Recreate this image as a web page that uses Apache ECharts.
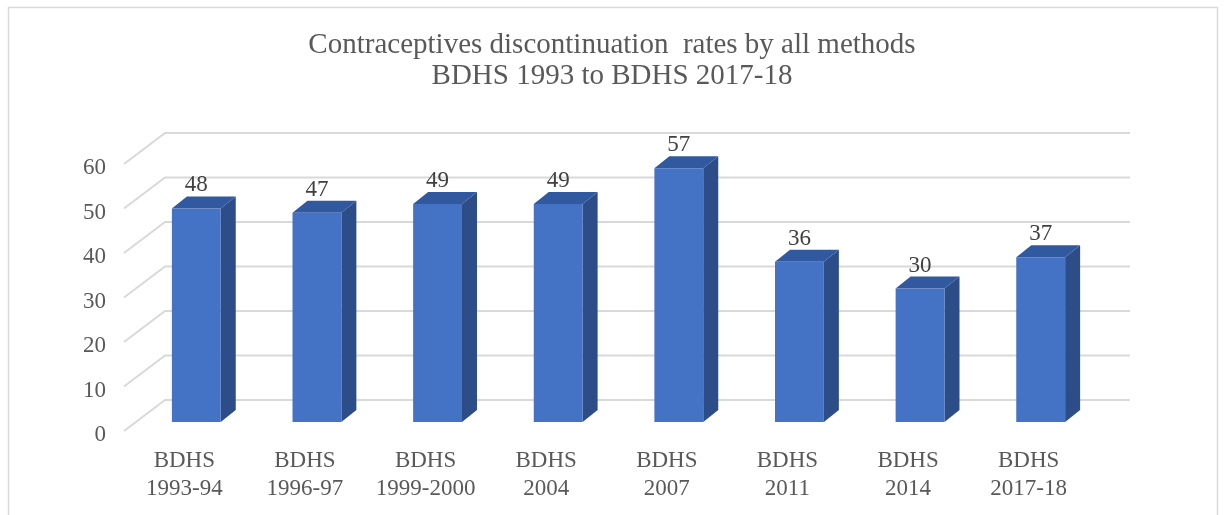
<!DOCTYPE html>
<html>
<head>
<meta charset="utf-8">
<script src="https://cdn.jsdelivr.net/npm/echarts@6/dist/echarts.min.js"></script>
<style>
html,body{margin:0;padding:0;background:#fff;}
#chart{width:1224px;height:515px;}
</style>
</head>
<body>
<div id="chart"></div>
<script>
const titleText = 'Contraceptives discontinuation  rates by all methods\nBDHS 1993 to BDHS 2017-18';
const categories = ['BDHS 1993-94','BDHS 1996-97','BDHS 1999-2000','BDHS 2004','BDHS 2007','BDHS 2011','BDHS 2014','BDHS 2017-18'];
const rates = [48, 47, 49, 49, 57, 36, 30, 37];
const yTicks = [0, 10, 20, 30, 40, 50, 60];

const FONT = 'Liberation Serif';
const FRONT = '#4472C4', SIDE = '#2C4D88', TOP = '#3059A0';
const DX = 15, DY = -12;          // bar depth offset
const WALL_DX = 29, WALL_DY = -22; // back wall offset from bar plane
const FLOOR_DX = -12, FLOOR_DY = 9; // front edge offset from bar plane

const chart = echarts.init(document.getElementById('chart'));
chart.setOption({
  backgroundColor: '#ffffff',
  animation: false,
  title: {
    text: titleText,
    left: 'center',
    top: 30,
    padding: 0,
    textStyle: {fontFamily: FONT, fontSize: 29, fontWeight: 'normal', color: '#595959', lineHeight: 31}
  },
  graphic: [{
    type: 'rect', silent: true,
    shape: {x: 8.5, y: 7.5, width: 1209, height: 530},
    style: {fill: 'none', stroke: '#D9D9D9', lineWidth: 1.5}
  }],
  grid: [
    {left: 136, right: 123, top: 155, bottom: 93},   // bar plane
    {left: 124, right: 135, top: 168, bottom: 80}    // front plane (labels)
  ],
  xAxis: [
    {type: 'category', gridIndex: 0, data: categories, show: false},
    {type: 'category', gridIndex: 1, data: categories,
     axisLine: {show: false}, axisTick: {show: false}, splitLine: {show: false},
     axisLabel: {margin: 12, interval: 0, fontFamily: FONT, fontSize: 23, lineHeight: 28, color: '#595959',
       formatter: v => v.replace(' ', '\n')}}
  ],
  yAxis: [
    {type: 'value', gridIndex: 0, min: 0, max: 60, interval: 10, show: false},
    {type: 'value', gridIndex: 1, min: 0, max: 60, interval: 10,
     axisLine: {show: false}, axisTick: {show: false}, splitLine: {show: false},
     axisLabel: {margin: 18, fontFamily: FONT, fontSize: 23, color: '#595959'}}
  ],
  series: [
    {
      type: 'custom', xAxisIndex: 0, yAxisIndex: 0, z: 1, silent: true,
      data: yTicks.map(v => [0, v]),
      renderItem: function (params, api) {
        const cs = params.coordSys;
        const y = api.coord([0, api.value(1)])[1];
        const x0 = cs.x;
        return {
          type: 'polyline',
          shape: {points: [
            [x0 + FLOOR_DX, y + FLOOR_DY],
            [x0 + WALL_DX, y + WALL_DY],
            [x0 + cs.width + WALL_DX, y + WALL_DY]
          ]},
          style: {stroke: '#D9D9D9', lineWidth: 2, fill: 'none'}
        };
      }
    },
    {
      type: 'custom', xAxisIndex: 0, yAxisIndex: 0, z: 2, silent: true,
      data: rates.map((v, i) => [i, v]),
      renderItem: function (params, api) {
        const i = api.value(0), v = api.value(1);
        const top = api.coord([i, v]);
        const bot = api.coord([i, 0]);
        const w = api.size([1, 0])[0] * 0.405;
        const xl = top[0] - w / 2, xr = top[0] + w / 2;
        const yt = top[1], yb = bot[1];
        return {
          type: 'group',
          children: [
            {type: 'polygon', shape: {points: [[xr, yt], [xr + DX, yt + DY], [xr + DX, yb + DY], [xr, yb]]},
             style: {fill: SIDE}},
            {type: 'polygon', shape: {points: [[xl, yt], [xr, yt], [xr + DX, yt + DY], [xl + DX, yt + DY]]},
             style: {fill: TOP}},
            {type: 'rect', shape: {x: xl, y: yt, width: w, height: yb - yt},
             style: {fill: FRONT}},
            {type: 'text', x: top[0], y: yt - 23,
             style: {text: String(v), fontFamily: FONT, fontSize: 23, fill: '#404040',
                     align: 'center', verticalAlign: 'middle'}}
          ]
        };
      }
    }
  ]
});
</script>
</body>
</html>
